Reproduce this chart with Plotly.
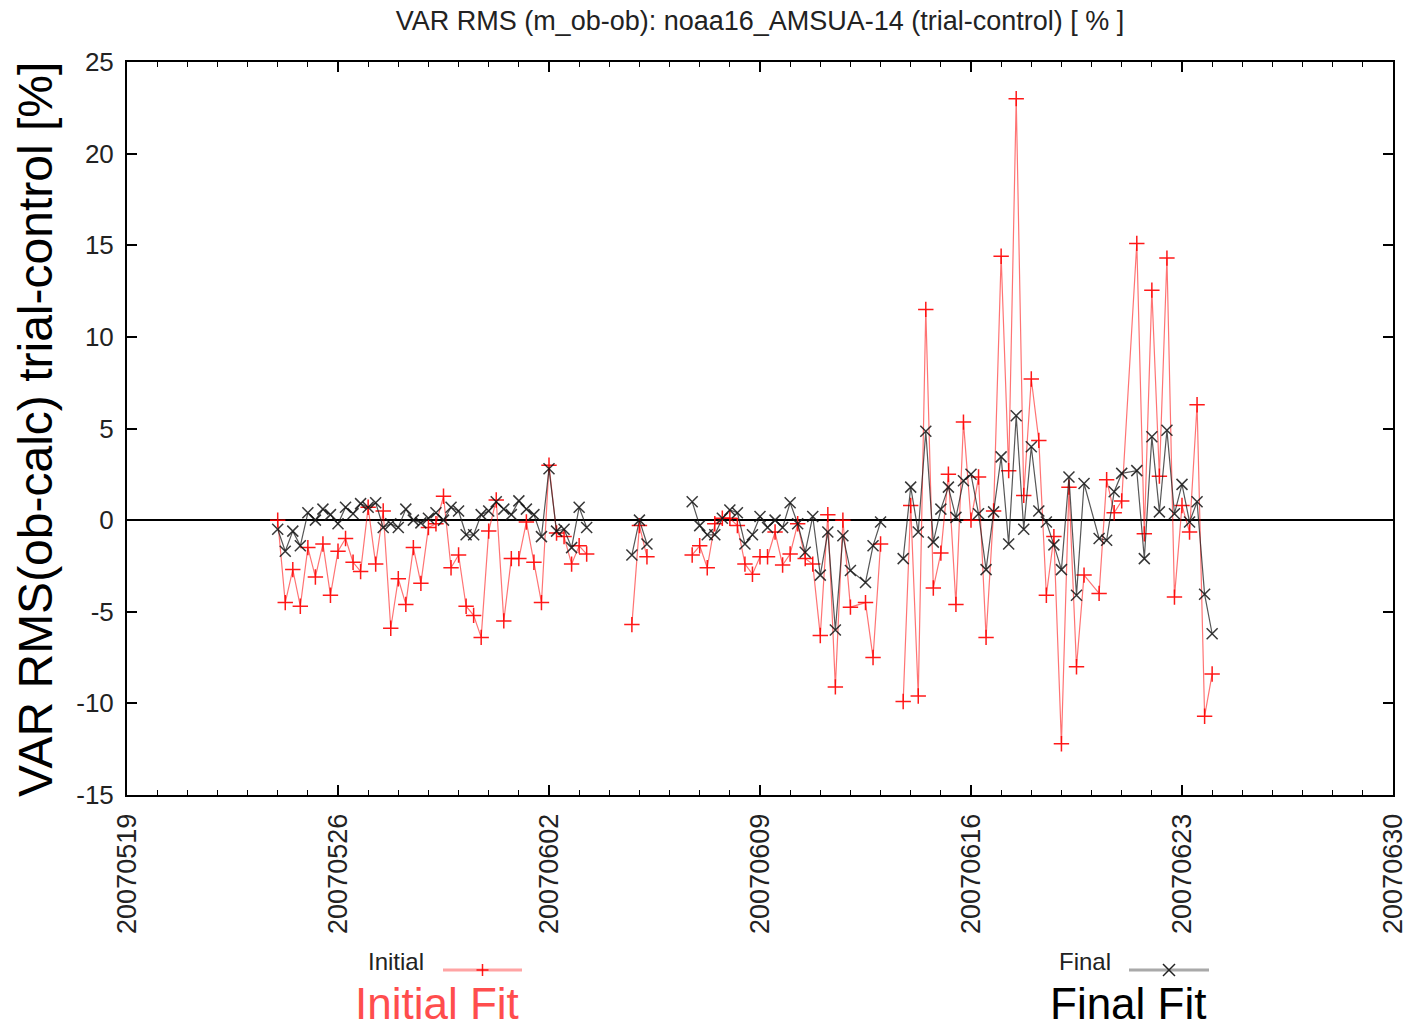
import pandas as pd
import plotly.graph_objects as go

# ---- data (6-hourly slots starting 2007-05-24 00Z); None = no data (line break)
start_time = "2007-05-24 00:00"
n_slots = 125
skipped_slots = [77, 108, 113]   # slots absent from the series (line just connects across)

initial_fit = [
    0.0, -4.5, -2.7, -4.7, -1.5, -3.1, -1.3, -4.1, -1.7, -1.0,
    -2.3, -2.8, 0.7, -2.4, 0.5, -5.9, -3.2, -4.6, -1.5, -3.45,
    -0.4, -0.2, 1.3, -2.6, -1.9, -4.7, -5.2, -6.4, -0.6, 1.1,
    -5.5, -2.1, -2.1, -0.1, -2.3, -4.5, 3.0, -0.7, -0.9, -2.4,
    -1.4, -1.85, None, None, None, None, None, -5.7, -0.3, -2.0,
    None, None, None, None, None, -1.9, -1.4, -2.6, -0.2, 0.1,
    0.1, -0.3, -2.4, -2.95, -2.0, -2.0, -0.65, -2.45, -1.85, -0.2,
    -2.1, -2.4, -6.3, 0.3, -9.1, 0.0, -4.75, None, -4.5, -7.5,
    -1.3, None, None, -9.9, 0.8, -9.6, 11.5, -3.7, -1.8, 2.5,
    -4.6, 5.35, 0.0, 2.35, -6.4, 0.5, 14.4, 2.7, 23.0, 1.35,
    7.7, 4.35, -4.1, -0.9, -12.2, 1.8, -8.0, -3.0, None, -4.0,
    2.2, 0.4, 1.05, None, 15.1, -0.75, 12.55, 2.4, 14.3, -4.2,
    0.8, -0.65, 6.3, -10.7, -8.4,
]

final_fit = [
    -0.5, -1.7, -0.6, -1.4, 0.4, 0.0, 0.6, 0.3, -0.2, 0.7,
    0.35, 0.9, 0.7, 0.95, -0.4, -0.2, -0.4, 0.6, 0.0, -0.15,
    0.1, 0.4, 0.0, 0.7, 0.5, -0.8, -0.8, 0.3, 0.5, 1.0,
    0.6, 0.3, 1.05, 0.6, 0.3, -0.9, 2.8, -0.6, -0.5, -1.5,
    0.7, -0.4, None, None, None, None, None, -1.9, 0.0, -1.3,
    None, None, None, None, None, 1.0, -0.3, -0.8, -0.8, 0.1,
    0.55, 0.4, -1.3, -0.8, 0.2, -0.4, 0.0, -0.4, 0.95, -0.2,
    -1.75, 0.2, -3.0, -0.65, -6.0, -0.85, -2.75, None, -3.4, -1.4,
    -0.1, None, None, -2.1, 1.8, -0.65, 4.85, -1.2, 0.6, 1.8,
    0.15, 2.15, 2.5, 0.35, -2.7, 0.45, 3.45, -1.3, 5.7, -0.5,
    4.0, 0.5, -0.1, -1.35, -2.7, 2.35, -4.1, 2.0, None, -1.0,
    -1.1, 1.55, 2.55, None, 2.7, -2.1, 4.55, 0.45, 4.9, 0.35,
    1.95, -0.1, 1.0, -4.05, -6.2,
]

x_range = ["2007-05-19", "2007-06-30"]
y_range = [-15, 25]
y_ticks = [-15, -10, -5, 0, 5, 10, 15, 20, 25]
y_ticklabels = ["-15", "-10", "-5", "0", "5", "10", "15", "20", "25"]
title_text = "VAR RMS (m_ob-ob): noaa16_AMSUA-14 (trial-control) [ % ]"
y_title = "VAR RMS(ob-calc) trial-control [%]"

# ---- build series
times = pd.date_range(start_time, periods=n_slots, freq="6h")
keep = [i for i in range(n_slots) if i not in skipped_slots]
t = [times[i] for i in keep]
yi = [initial_fit[i] for i in keep]
yf = [final_fit[i] for i in keep]

FONT = "Liberation Sans, Arial, Helvetica, sans-serif"
W, H = 1410, 1031
L, R, T, B = 127, 17, 62, 236
PW, PH = W - L - R, H - T - B


def px(xp):
    return (xp - L) / PW


def py(yp):
    return (H - B - yp) / PH


fig = go.Figure()
fig.add_trace(go.Scatter(
    x=t, y=yi, mode="lines+markers", name="Initial", connectgaps=False,
    line=dict(color="rgba(255,0,0,0.55)", width=1.2),
    marker=dict(symbol="cross-thin-open", size=11, color="rgba(255,0,0,0.9)",
                line=dict(color="rgba(255,0,0,0.85)", width=1.5)),
))
fig.add_trace(go.Scatter(
    x=t, y=yf, mode="lines+markers", name="Final", connectgaps=False,
    line=dict(color="rgba(30,30,30,0.75)", width=1.2),
    marker=dict(symbol="x-thin-open", size=11, color="rgba(20,20,20,0.85)",
                line=dict(color="rgba(20,20,20,0.8)", width=1.5)),
))

fig.update_layout(
    width=W, height=H,
    margin=dict(l=L, r=R, t=T, b=B, autoexpand=False),
    paper_bgcolor="white", plot_bgcolor="white",
    showlegend=False,
    font=dict(family=FONT, color="#222"),
    title=dict(text=title_text, x=760 / W, xanchor="center",
               yref="container", y=1 - 21 / H, yanchor="middle",
               font=dict(size=27, color="#222", family=FONT)),
)

fig.update_xaxes(
    type="date", range=x_range, tick0="2007-05-19", dtick=7 * 86400000,
    tickformat="%Y%m%d", tickangle=-90, tickfont=dict(size=27, color="#222"),
    ticks="inside", ticklen=10, tickwidth=1.5, tickcolor="black",
    showline=True, linecolor="black", linewidth=2, mirror="ticks",
    showgrid=False, zeroline=False, ticklabelstandoff=6,
    minor=dict(ticks="inside", dtick=86400000, tick0="2007-05-19",
               ticklen=5, tickwidth=1.2, tickcolor="black", showgrid=False),
)
fig.update_yaxes(
    range=y_range, tickmode="array", tickvals=y_ticks, ticktext=y_ticklabels,
    tickfont=dict(size=26, color="#222"),
    ticks="inside", ticklen=10, tickwidth=1.5, tickcolor="black",
    showline=True, linecolor="black", linewidth=2, mirror="ticks",
    showgrid=False, zeroline=True, zerolinecolor="black", zerolinewidth=1.6,
    ticklabelstandoff=6,
)

ann = []
shapes = []
# y-axis title
ann.append(dict(text=y_title, xref="paper", yref="paper", x=px(36), y=py(430),
                textangle=-90, showarrow=False, xanchor="center", yanchor="middle",
                font=dict(size=48, color="black", family=FONT)))

# key entries: text, sample line, marker
def key(label, x_text_right, x0, x1, yk, yt, line_col, mark_col, kind):
    ann.append(dict(text=label, xref="paper", yref="paper", x=px(x_text_right), y=py(yt),
                    xanchor="right", yanchor="middle", showarrow=False,
                    font=dict(size=24, color="#222", family=FONT)))
    shapes.append(dict(type="line", xref="paper", yref="paper",
                       x0=px(x0), x1=px(x1), y0=py(yk), y1=py(yk),
                       line=dict(color=line_col, width=3)))
    cx = (x0 + x1) / 2
    s = 6
    if kind == "+":
        segs = [(cx - s, yk, cx + s, yk), (cx, yk - s, cx, yk + s)]
    else:
        segs = [(cx - s, yk - s, cx + s, yk + s), (cx - s, yk + s, cx + s, yk - s)]
    for (a, b, c, d) in segs:
        shapes.append(dict(type="line", xref="paper", yref="paper",
                           x0=px(a), y0=py(b), x1=px(c), y1=py(d),
                           line=dict(color=mark_col, width=1.5)))

key("Initial", 426, 443, 522, 970, 961, "rgba(255,90,90,0.55)", "rgba(255,0,0,0.9)", "+")
key("Final", 1113, 1129, 1209, 970, 961, "rgba(140,140,140,0.75)", "#222", "x")

ann.append(dict(text="Initial Fit", xref="paper", yref="paper", x=px(437), y=py(1004),
                xanchor="center", yanchor="middle", showarrow=False,
                font=dict(size=44, color="#ff4d4d", family=FONT)))
ann.append(dict(text="Final Fit", xref="paper", yref="paper", x=px(1128), y=py(1004),
                xanchor="center", yanchor="middle", showarrow=False,
                font=dict(size=44, color="black", family=FONT)))

fig.update_layout(annotations=ann, shapes=shapes)
fig.write_html("out.html")
